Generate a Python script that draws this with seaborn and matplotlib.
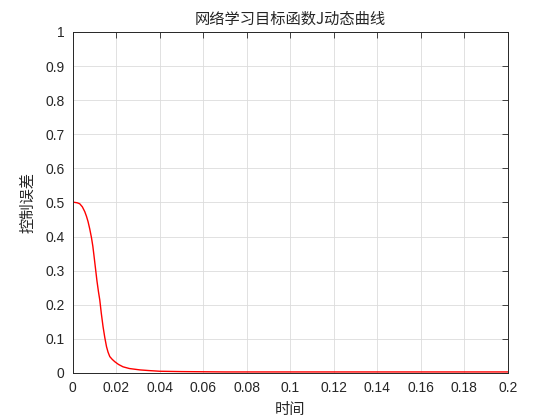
import numpy as np
import pandas as pd
import matplotlib
matplotlib.use("Agg")
import matplotlib.pyplot as plt
import seaborn as sns

# values
t = [0.0, 0.001, 0.002, 0.0032, 0.0044, 0.0055, 0.0063, 0.007, 0.0078, 0.0086,
     0.0092, 0.0097, 0.0104, 0.0111, 0.0118, 0.0124, 0.0131, 0.0139, 0.0147, 0.0155,
     0.0162, 0.017, 0.0181, 0.0193, 0.021, 0.0231, 0.026, 0.0308, 0.035, 0.04,
     0.05, 0.07, 0.1, 0.15, 0.2]
J = [0.501, 0.500, 0.499, 0.496, 0.487, 0.473, 0.459, 0.444, 0.422, 0.396,
     0.372, 0.346, 0.308, 0.270, 0.238, 0.214, 0.175, 0.136, 0.104, 0.077,
     0.061, 0.048, 0.040, 0.033, 0.025, 0.018, 0.013, 0.009, 0.007, 0.005,
     0.004, 0.003, 0.003, 0.003, 0.003]

x_ticks = [0, 0.02, 0.04, 0.06, 0.08, 0.1, 0.12, 0.14, 0.16, 0.18, 0.2]
x_labels = ["0", "0.02", "0.04", "0.06", "0.08", "0.1", "0.12", "0.14", "0.16", "0.18", "0.2"]
y_ticks = [0, 0.1, 0.2, 0.3, 0.4, 0.5, 0.6, 0.7, 0.8, 0.9, 1]
y_labels = ["0", "0.1", "0.2", "0.3", "0.4", "0.5", "0.6", "0.7", "0.8", "0.9", "1"]

df = pd.DataFrame({"t": t, "J": J})

sns.set_style("white")
plt.rcParams["font.family"] = ["Liberation Sans", "Noto Sans CJK SC", "DejaVu Sans"]

fig = plt.figure(figsize=(5.6, 4.2), dpi=100)
ax = fig.add_axes([0.130, 0.112, 0.777, 0.812])

sns.lineplot(data=df, x="t", y="J", color="red", linewidth=1.0, ax=ax)

ax.set_xlim(0, 0.2)
ax.set_ylim(0, 1)
ax.set_xticks(x_ticks)
ax.set_xticklabels(x_labels)
ax.set_yticks(y_ticks)
ax.set_yticklabels(y_labels)
ax.grid(True, color="#dcdcdc", linewidth=0.6)
ax.tick_params(direction="in", length=4, width=0.6, colors="#262626",
               labelsize=10, top=True, right=True, pad=6)
for s in ax.spines.values():
    s.set_color("#262626")
    s.set_linewidth(0.7)

cjk = ["Noto Sans CJK SC", "DejaVu Sans"]
ax.set_title("网络学习目标函数J动态曲线", family=cjk, fontsize=11, color="#262626", pad=6)
ax.set_xlabel("时间", family=cjk, fontsize=11, color="#262626", labelpad=4)
ax.set_ylabel("控制误差", family=cjk, fontsize=11, color="#262626", labelpad=6)

fig.savefig("out.png", dpi=100)
